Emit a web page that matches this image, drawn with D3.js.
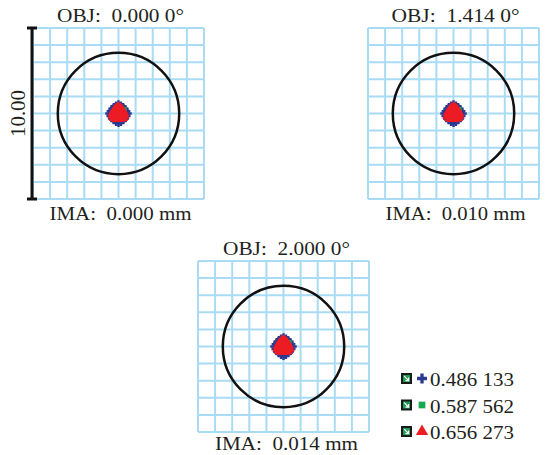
<!DOCTYPE html>
<html>
<head>
<meta charset="utf-8">
<script src="https://cdn.jsdelivr.net/npm/d3@7"></script>
<style>
  body { margin: 0; background: #fff; }
  text { font-family: "Liberation Serif", "Times New Roman", serif; fill: #231f20; white-space: pre; }
</style>
</head>
<body>
<div id="chart"></div>
<script>
var svgWidth = 550;
var svgHeight = 455;

// field / image labels
var objLabels = ["OBJ:  0.000 0\u00b0", "OBJ:  1.414 0\u00b0", "OBJ:  2.000 0\u00b0"];
var imaLabels = ["IMA:  0.000 mm", "IMA:  0.010 mm", "IMA:  0.014 mm"];
var wavelengths = ["0.486 133", "0.587 562", "0.656 273"];

// plot extent in µm, grid ticks, airy radius, scale bar
var gridTicks = [-5, -4, -3, -2, -1, 0, 1, 2, 3, 4, 5];
var airyRadius = 3.55;
var scaleBarValue = 10.00;

// ray intercepts (µm, relative to chief ray)
var spotBlue = [
  [0.00, 0.56], [0.14, 0.49], [0.27, 0.40], [0.38, 0.28], [0.48, 0.14],
  [0.56, 0.00], [0.49, -0.15], [0.40, -0.29], [0.28, -0.41], [0.14, -0.51],
  [0.00, -0.58], [-0.14, -0.51], [-0.28, -0.41], [-0.40, -0.29], [-0.49, -0.15],
  [-0.56, 0.00], [-0.48, 0.14], [-0.38, 0.28], [-0.27, 0.40], [-0.14, 0.49],
  [0.00, 0.30], [0.22, 0.20], [0.30, 0.00], [0.22, -0.22], [0.00, -0.32],
  [-0.22, -0.22], [-0.30, 0.00], [-0.22, 0.20], [0.00, 0.00]
];
var spotGreen = [
  [0.00, 0.34], [0.18, 0.26], [0.30, 0.10], [0.30, -0.10], [0.18, -0.24],
  [0.00, -0.28], [-0.18, -0.24], [-0.30, -0.10], [-0.30, 0.10], [-0.18, 0.26],
  [0.00, 0.00], [0.34, 0.24]
];
var spotRed = [
  [0.00, 0.44], [0.11, 0.39], [-0.11, 0.39], [0.22, 0.28], [-0.22, 0.28],
  [0.31, 0.14], [-0.31, 0.14], [0.39, -0.01], [-0.39, -0.01], [0.41, -0.17],
  [-0.41, -0.17], [0.32, -0.30], [-0.32, -0.30], [0.16, -0.35], [-0.16, -0.35],
  [0.00, -0.36], [0.00, 0.22], [0.16, 0.06], [-0.16, 0.06], [0.20, -0.16],
  [-0.20, -0.16], [0.00, -0.16], [0.00, 0.02]
];

var colors = { blue: "#2b3990", green: "#16a84f", red: "#ed1c24", grid: "#a9dcf4" };

// panel placement
var panelSize = 171;
var panels = [
  { left: 33, top: 28, objX: 2, objY: 22, imaY: 220, objW: 127, imaW: 142 },
  { left: 368, top: 28, objX: 2, objY: 22, imaY: 220, objW: 128, imaW: 140 },
  { left: 198, top: 261, objX: 3, objY: 255, imaY: 450, objW: 127, imaW: 143 }
];

var svg = d3.select("#chart")
  .append("svg")
  .attr("width", svgWidth)
  .attr("height", svgHeight);

var blueSym = d3.symbol().type(d3.symbolCross).size(30);
var greenSym = d3.symbol().type(d3.symbolSquare).size(22);
var redSym = d3.symbol().type(d3.symbolTriangle).size(30);

panels.forEach(function(p, i) {
  var xScale = d3.scaleLinear().domain([-5, 5]).range([p.left, p.left + panelSize]);
  var yScale = d3.scaleLinear().domain([-5, 5]).range([p.top + panelSize, p.top]);

  var g = svg.append("g");

  // grid
  g.selectAll(".vgrid")
    .data(gridTicks)
    .enter()
    .append("line")
    .attr("x1", d => xScale(d)).attr("x2", d => xScale(d))
    .attr("y1", yScale(-5)).attr("y2", yScale(5))
    .attr("stroke", colors.grid)
    .attr("stroke-width", 2);
  g.selectAll(".hgrid")
    .data(gridTicks)
    .enter()
    .append("line")
    .attr("x1", xScale(-5)).attr("x2", xScale(5))
    .attr("y1", d => yScale(d)).attr("y2", d => yScale(d))
    .attr("stroke", colors.grid)
    .attr("stroke-width", 2);

  // airy disk
  g.append("circle")
    .attr("cx", xScale(0))
    .attr("cy", yScale(0))
    .attr("r", xScale(airyRadius) - xScale(0))
    .attr("fill", "none")
    .attr("stroke", "#111")
    .attr("stroke-width", 2.5);

  // spots
  g.selectAll(".blue")
    .data(spotBlue)
    .enter()
    .append("path")
    .attr("d", blueSym)
    .attr("transform", d => `translate(${xScale(d[0])},${yScale(d[1])})`)
    .attr("fill", colors.blue);
  g.selectAll(".green")
    .data(spotGreen)
    .enter()
    .append("path")
    .attr("d", greenSym)
    .attr("transform", d => `translate(${xScale(d[0])},${yScale(d[1])})`)
    .attr("fill", colors.green);
  g.selectAll(".red")
    .data(spotRed)
    .enter()
    .append("path")
    .attr("d", redSym)
    .attr("transform", d => `translate(${xScale(d[0])},${yScale(d[1])})`)
    .attr("fill", colors.red);

  // labels
  g.append("text")
    .attr("x", xScale(0) + p.objX)
    .attr("y", p.objY)
    .attr("text-anchor", "middle")
    .attr("font-size", 18)
    .attr("textLength", p.objW)
    .attr("lengthAdjust", "spacingAndGlyphs")
    .text(objLabels[i]);
  g.append("text")
    .attr("x", xScale(0) + p.objX)
    .attr("y", p.imaY)
    .attr("text-anchor", "middle")
    .attr("font-size", 18)
    .attr("textLength", p.imaW)
    .attr("lengthAdjust", "spacingAndGlyphs")
    .text(imaLabels[i]);

  // scale bar on first panel
  if (i === 0) {
    var bx = p.left - 1;
    var bar = g.append("g");
    bar.append("line")
      .attr("x1", bx).attr("x2", bx)
      .attr("y1", yScale(-scaleBarValue / 2)).attr("y2", yScale(scaleBarValue / 2))
      .attr("stroke", "#111").attr("stroke-width", 3);
    [-scaleBarValue / 2, scaleBarValue / 2].forEach(function(v) {
      bar.append("line")
        .attr("x1", bx - 5).attr("x2", bx + 5)
        .attr("y1", yScale(v)).attr("y2", yScale(v))
        .attr("stroke", "#111").attr("stroke-width", 3);
    });
    bar.append("text")
      .attr("transform", `translate(${bx - 7}, ${yScale(0)}) rotate(-90)`)
      .attr("text-anchor", "middle")
      .attr("font-size", 20)
      .attr("textLength", 47)
      .attr("lengthAdjust", "spacingAndGlyphs")
      .text(scaleBarValue.toFixed(2));
  }
});

// legend
var legend = svg.append("g").attr("transform", "translate(401, 373)");
var legendSizes = [55, 45, 65];
var legendTypes = [d3.symbolCross, d3.symbolSquare, d3.symbolTriangle];
var legendColors = [colors.blue, colors.green, colors.red];

var items = legend.selectAll("g")
  .data(wavelengths)
  .enter()
  .append("g")
  .attr("transform", (d, i) => `translate(0, ${i * 26.5})`);

items.append("rect")
  .attr("width", 11).attr("height", 11)
  .attr("fill", "#1a1a1a");
items.append("rect")
  .attr("x", 2).attr("y", 2)
  .attr("width", 7).attr("height", 7)
  .attr("fill", "#1e9e55");
items.append("path")
  .attr("d", "M3.2,3.2 L7,7 M7.6,4.4 L7.6,7.6 L4.4,7.6")
  .attr("stroke", "#fff")
  .attr("stroke-width", 1.2)
  .attr("fill", "none");
items.append("path")
  .attr("d", (d, i) => d3.symbol().type(legendTypes[i]).size(legendSizes[i])())
  .attr("transform", "translate(21, 5.5)")
  .attr("fill", (d, i) => legendColors[i]);
items.append("text")
  .attr("x", 29)
  .attr("y", 13)
  .attr("font-size", 19)
  .attr("textLength", 84)
  .attr("lengthAdjust", "spacingAndGlyphs")
  .text(d => d);
</script>
</body>
</html>
